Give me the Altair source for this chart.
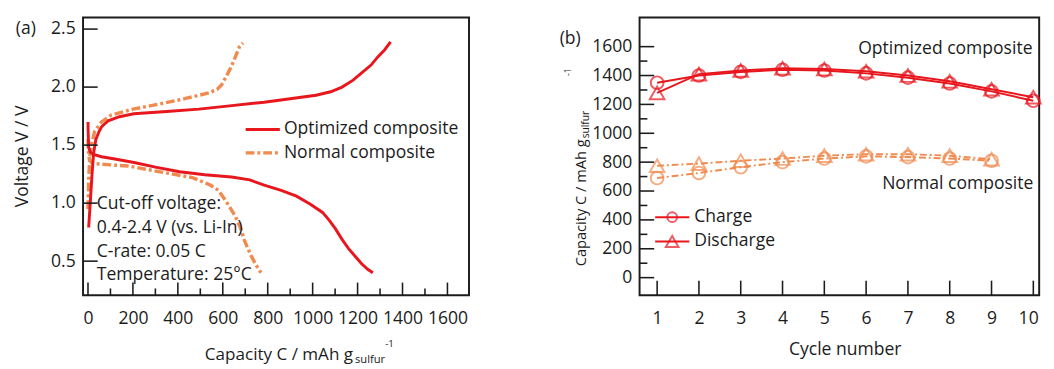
import altair as alt
import pandas as pd

FONT = "Open Sans"
INK = "#1c1c1c"
RED = "#e8161d"
ORANGE = "#f08a4e"

# ---------------- Panel (a): voltage profiles ----------------
opt_charge_cap = [3, 10, 18, 25, 35, 50, 61, 90, 140, 204, 350, 494, 640, 784, 900, 1015,
                  1080, 1131, 1180, 1217, 1260, 1290, 1320, 1347]
opt_charge_v = [0.79, 1.00, 1.25, 1.43, 1.55, 1.62, 1.66, 1.71, 1.745, 1.77, 1.79, 1.81, 1.84,
                1.87, 1.90, 1.93, 1.96, 2.00, 2.06, 2.12, 2.19, 2.26, 2.32, 2.39]
opt_dis_cap = [0, 1, 3, 10, 25, 60, 120, 205, 300, 408, 520, 639, 720, 784, 860, 928, 990,
               1044, 1075, 1101, 1130, 1159, 1190, 1217, 1245, 1268]
opt_dis_v = [1.70, 1.60, 1.48, 1.44, 1.42, 1.40, 1.38, 1.35, 1.31, 1.27, 1.245, 1.225, 1.20,
             1.155, 1.11, 1.06, 0.99, 0.92, 0.85, 0.78, 0.69, 0.61, 0.54, 0.48, 0.43, 0.40]
norm_charge_cap = [0, 3, 8, 15, 30, 60, 104, 200, 321, 430, 538, 575, 595, 615, 639, 660, 675, 690]
norm_charge_v = [0.95, 1.20, 1.40, 1.50, 1.62, 1.70, 1.76, 1.81, 1.855, 1.90, 1.95, 1.98, 2.02,
                 2.09, 2.18, 2.28, 2.35, 2.38]
norm_dis_cap = [0, 2, 6, 15, 30, 100, 178, 321, 465, 540, 581, 620, 655, 680, 698, 725, 750, 770]
norm_dis_v = [1.55, 1.45, 1.38, 1.35, 1.34, 1.33, 1.32, 1.27, 1.22, 1.16, 1.11, 1.00, 0.89,
              0.78, 0.67, 0.55, 0.46, 0.40]

xa_major = [0, 200, 400, 600, 800, 1000, 1200, 1400, 1600]
xa_minor = [100, 300, 500, 700, 900, 1100, 1300, 1500]
ya_major = [0.5, 1.0, 1.5, 2.0, 2.5]

legend_a_labels = ["Optimized composite", "Normal composite"]
legend_a_v = [1.634, 1.433]
legend_a_x = [702, 854, 872]

note_lines = ["Cut-off voltage:", "0.4-2.4 V (vs. Li-In)", "C-rate: 0.05 C", "Temperature: 25°C"]
note_v = [0.99, 0.785, 0.576, 0.38]
note_cap = 39

# ---------------- Panel (b): cycling ----------------
cycles_opt = [1, 2, 3, 4, 5, 6, 7, 8, 9, 10]
opt_charge_cyc = [1350, 1400, 1425, 1440, 1435, 1415, 1385, 1345, 1290, 1225]
opt_dis_cyc = [1280, 1410, 1435, 1450, 1445, 1430, 1400, 1360, 1305, 1250]
cycles_norm = [1, 2, 3, 4, 5, 6, 7, 8, 9]
norm_charge_cyc = [690, 725, 765, 800, 825, 840, 835, 825, 810]
norm_dis_cyc = [775, 790, 810, 825, 845, 855, 855, 845, 820]

xb_ticks = [1, 2, 3, 4, 5, 6, 7, 8, 9, 10]
yb_major = [0, 200, 400, 600, 800, 1000, 1200, 1400, 1600]
yb_minor = [100, 300, 500, 700, 900, 1100, 1300, 1500]

legend_b_labels = ["Charge", "Discharge"]
legend_b_y = [419, 250]
legend_b_x = [0.953, 1.77, 1.36, 1.886]

series_b_labels = ["Optimized composite", "Normal composite"]
series_b_x = [9.98, 10.0]
series_b_y = [1580, 648]

WA, HA = 396, 285
WB, HB = 410, 285
FS = 18


def label(text, x, y, size=FS, align="left", baseline="alphabetic", angle=0):
    return alt.Chart(pd.DataFrame({"t": [text]})).mark_text(
        align=align, baseline=baseline, angle=angle, fontSize=size, font=FONT, color=INK
    ).encode(x=alt.value(x), y=alt.value(y), text="t:N")


# ---------- Panel (a) ----------
xa_scale = alt.Scale(domain=[-22, 1696], nice=False, zero=False)
ya_scale = alt.Scale(domain=[0.206, 2.6], nice=False, zero=False)
xa_axis = alt.Axis(values=xa_major, format="d", title=None, labelPadding=24, labelBaseline="middle")
ya_axis = alt.Axis(values=ya_major, format=".1f", title=None, labelPadding=8)


def XA(field="cap"):
    return alt.X(f"{field}:Q", scale=xa_scale, axis=xa_axis)


def YA(field="v"):
    return alt.Y(f"{field}:Q", scale=ya_scale, axis=ya_axis)


def curve(caps, vs):
    return pd.DataFrame({"cap": caps, "v": vs, "i": list(range(len(caps)))})


DASH_A = [9, 3, 3, 3]
la = []
la.append(alt.Chart(curve(norm_charge_cap, norm_charge_v)).mark_line(
    color=ORANGE, strokeWidth=3.5, strokeDash=DASH_A).encode(x=XA(), y=YA(), order="i:Q"))
la.append(alt.Chart(curve(norm_dis_cap, norm_dis_v)).mark_line(
    color=ORANGE, strokeWidth=3.5, strokeDash=DASH_A).encode(x=XA(), y=YA(), order="i:Q"))
la.append(alt.Chart(curve(opt_charge_cap, opt_charge_v)).mark_line(
    color=RED, strokeWidth=3).encode(x=XA(), y=YA(), order="i:Q"))
la.append(alt.Chart(curve(opt_dis_cap, opt_dis_v)).mark_line(
    color=RED, strokeWidth=3).encode(x=XA(), y=YA(), order="i:Q"))

# inward ticks
la.append(alt.Chart(pd.DataFrame({"cap": xa_major})).mark_rule(color=INK, strokeWidth=1.6).encode(
    x=XA(), y=alt.value(HA), y2=alt.value(HA - 13)))
la.append(alt.Chart(pd.DataFrame({"cap": xa_minor})).mark_rule(color=INK, strokeWidth=1.6).encode(
    x=XA(), y=alt.value(HA), y2=alt.value(HA - 7)))
la.append(alt.Chart(pd.DataFrame({"v": ya_major})).mark_rule(color=INK, strokeWidth=1.6).encode(
    y=YA(), x=alt.value(0), x2=alt.value(15)))

# legend (a)
leg_a = pd.DataFrame({"cap": [legend_a_x[0]] * 2, "cap2": [legend_a_x[1]] * 2,
                      "tx": [legend_a_x[2]] * 2, "v": legend_a_v, "t": legend_a_labels})
la.append(alt.Chart(leg_a.iloc[[0]]).mark_rule(color=RED, strokeWidth=3).encode(
    x=XA(), x2="cap2:Q", y=YA()))
la.append(alt.Chart(leg_a.iloc[[1]]).mark_rule(color=ORANGE, strokeWidth=3.5, strokeDash=DASH_A).encode(
    x=XA(), x2="cap2:Q", y=YA()))
la.append(alt.Chart(leg_a).mark_text(align="left", baseline="middle", fontSize=FS, font=FONT, color=INK).encode(
    x=XA("tx"), y=YA(), text="t:N"))

# notes
notes = pd.DataFrame({"cap": [note_cap] * len(note_lines), "v": note_v, "t": note_lines})
la.append(alt.Chart(notes).mark_text(align="left", baseline="middle", fontSize=FS, font=FONT, color=INK).encode(
    x=XA(), y=YA(), text="t:N"))

# titles
la.append(label("(a)", -69, 12, baseline="middle"))
la.append(label("Voltage V / V", -56, HA / 2, align="center", angle=270))
la.append(label("Capacity C / mAh g", 277, 351, size=17.5, align="right"))
la.append(label("sulfur", 279, 355, size=11.5))
la.append(label("-1", 310, 338, size=10))

panel_a = alt.layer(*la).properties(width=WA, height=HA)

# ---------- Panel (b) ----------
xb_scale = alt.Scale(domain=[0.58, 10.14], nice=False, zero=False)
yb_scale = alt.Scale(domain=[-122, 1802], nice=False, zero=False)
xb_axis = alt.Axis(values=xb_ticks, format="d", title=None, labelPadding=24,
                   labelBaseline="middle", labelFlush=10, labelFlushOffset=5)
yb_axis = alt.Axis(values=yb_major, format="d", title=None, labelPadding=8)


def XB(field="cycle"):
    return alt.X(f"{field}:Q", scale=xb_scale, axis=xb_axis)


def YB(field="cap"):
    return alt.Y(f"{field}:Q", scale=yb_scale, axis=yb_axis)


def series(cyc, vals):
    return pd.DataFrame({"cycle": cyc, "cap": vals})


lb = []
DASH_B = [7, 3, 2, 3]
lb.append(alt.Chart(series(cycles_norm, norm_charge_cyc)).mark_line(
    color=ORANGE, strokeWidth=2, strokeDash=DASH_B).encode(x=XB(), y=YB()))
lb.append(alt.Chart(series(cycles_norm, norm_dis_cyc)).mark_line(
    color=ORANGE, strokeWidth=2, strokeDash=DASH_B).encode(x=XB(), y=YB()))
lb.append(alt.Chart(series(cycles_norm, norm_charge_cyc)).mark_point(
    shape="circle", filled=False, size=170, strokeWidth=2, color=ORANGE).encode(x=XB(), y=YB()))
lb.append(alt.Chart(series(cycles_norm, norm_dis_cyc)).mark_point(
    shape="triangle-up", filled=False, size=225, strokeWidth=2, color=ORANGE).encode(x=XB(), y=YB()))
lb.append(alt.Chart(series(cycles_opt, opt_charge_cyc)).mark_line(
    color=RED, strokeWidth=2).encode(x=XB(), y=YB()))
lb.append(alt.Chart(series(cycles_opt, opt_dis_cyc)).mark_line(
    color=RED, strokeWidth=2).encode(x=XB(), y=YB()))
lb.append(alt.Chart(series(cycles_opt, opt_charge_cyc)).mark_point(
    shape="circle", filled=False, size=170, strokeWidth=2, color=RED).encode(x=XB(), y=YB()))
lb.append(alt.Chart(series(cycles_opt, opt_dis_cyc)).mark_point(
    shape="triangle-up", filled=False, size=225, strokeWidth=2, color=RED).encode(x=XB(), y=YB()))

# inward ticks
lb.append(alt.Chart(pd.DataFrame({"cycle": xb_ticks})).mark_rule(color=INK, strokeWidth=1.6).encode(
    x=XB(), y=alt.value(HB), y2=alt.value(HB - 15)))
lb.append(alt.Chart(pd.DataFrame({"cap": yb_major})).mark_rule(color=INK, strokeWidth=1.6).encode(
    y=YB(), x=alt.value(0), x2=alt.value(15)))
lb.append(alt.Chart(pd.DataFrame({"cap": yb_minor})).mark_rule(color=INK, strokeWidth=1.6).encode(
    y=YB(), x=alt.value(0), x2=alt.value(8)))

# legend (b)
leg_b = pd.DataFrame({"cycle": [legend_b_x[0]] * 2, "c2": [legend_b_x[1]] * 2,
                      "cm": [legend_b_x[2]] * 2, "tx": [legend_b_x[3]] * 2,
                      "cap": legend_b_y, "t": legend_b_labels})
lb.append(alt.Chart(leg_b).mark_rule(color=RED, strokeWidth=2).encode(x=XB(), x2="c2:Q", y=YB()))
lb.append(alt.Chart(leg_b.iloc[[0]]).mark_point(shape="circle", filled=False, size=100, strokeWidth=2, color=RED).encode(
    x=XB("cm"), y=YB()))
lb.append(alt.Chart(leg_b.iloc[[1]]).mark_point(shape="triangle-up", filled=False, size=170, strokeWidth=2, color=RED).encode(
    x=XB("cm"), y=YB()))
lb.append(alt.Chart(leg_b).mark_text(align="left", baseline="middle", fontSize=FS, font=FONT, color=INK).encode(
    x=XB("tx"), y=YB(), text="t:N"))

series_labels = pd.DataFrame({"cycle": series_b_x, "cap": series_b_y, "t": series_b_labels})
lb.append(alt.Chart(series_labels).mark_text(align="right", baseline="middle", fontSize=FS, font=FONT, color=INK).encode(
    x=XB(), y=YB(), text="t:N"))

lb.append(label("(b)", -82, 22, baseline="middle"))
lb.append(label("Capacity C / mAh g", -55, 125, size=15, align="right", angle=270))
lb.append(label("sulfur", -52, 124, size=10.5, align="left", angle=270))
lb.append(label("-1", -70, 60, size=9, align="left", angle=270))
lb.append(label("Cycle number", 211, 346, align="center"))

panel_b = alt.layer(*lb).properties(width=WB, height=HB)

chart = alt.hconcat(panel_a, panel_b, spacing=91).properties(
    padding={"left": 6, "top": 4, "right": 0, "bottom": 0}
).configure_view(stroke=INK, strokeWidth=2).configure_axis(
    labelFont=FONT, labelFontSize=18, labelColor=INK, grid=False, domain=False,
    ticks=False, tickSize=0
).configure_text(font=FONT)

chart.save("out.html", embed_options={"renderer": "svg", "actions": False})
